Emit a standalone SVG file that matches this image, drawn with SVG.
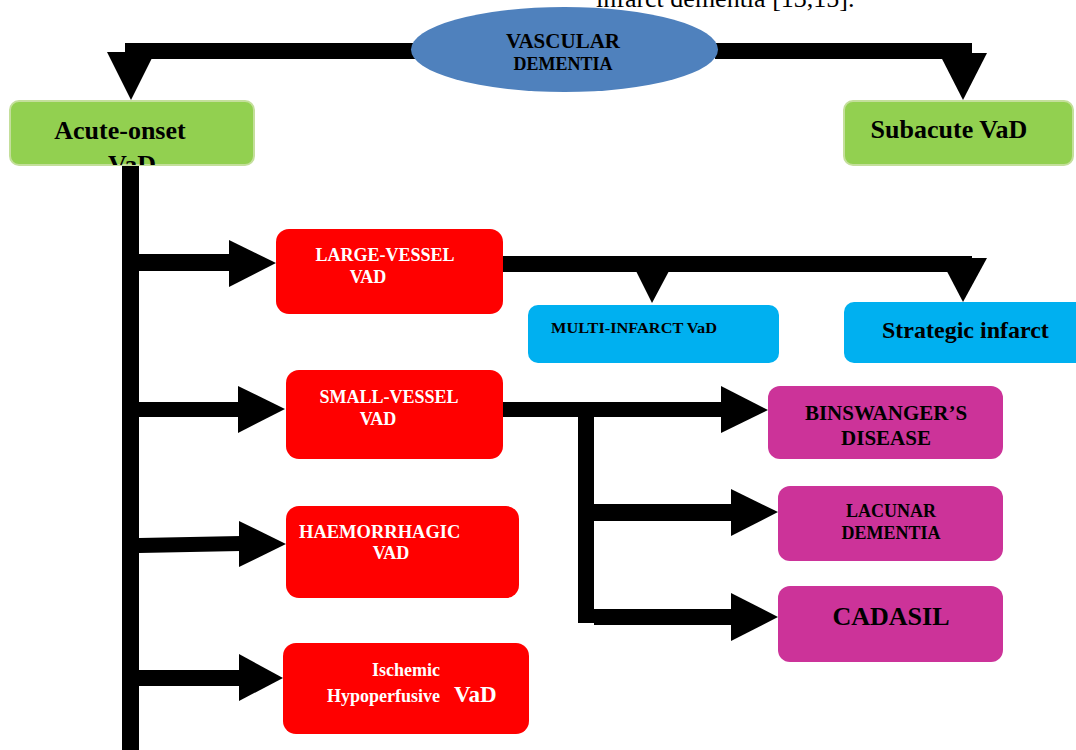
<svg xmlns="http://www.w3.org/2000/svg" width="1076" height="750" viewBox="0 0 1076 750">
<defs>
<style>
.bar{fill:#000}
.t{font-family:"Liberation Serif","Times New Roman",serif;font-weight:bold}
.w{fill:#fff}
.k{fill:#000}
.red{fill:#ff0000}
.grn{fill:#92d050;stroke:#c4df9b;stroke-width:2}
.blu{fill:#00b0f0}
.mag{fill:#cc3399}
</style>
<clipPath id="acuteClip"><rect x="10" y="101" width="244" height="64" rx="9"/></clipPath>
</defs>
<rect width="1076" height="750" fill="#fff"/>
<text x="596" y="7" font-family="Liberation Serif, Times New Roman, serif" font-size="26" fill="#000">infarct dementia [13,15].</text>
<g id="connectors" class="bar">
<rect x="125" y="43" width="290" height="16"/>
<polygon points="107,52 155,52 131,100"/>
<rect x="715" y="43" width="257" height="16"/>
<polygon points="939,53 987,53 963,100"/>
<rect x="122" y="165" width="17" height="585"/>
<rect x="139" y="254" width="92" height="17"/>
<polygon points="229,240 276,263 229,287"/>
<rect x="500" y="256" width="472" height="16"/>
<polygon points="636,271 669,271 652,303"/>
<polygon points="940,258 987,258 963,302"/>
<rect x="139" y="402" width="101" height="15"/>
<polygon points="238,386 285,409 238,433"/>
<rect x="500" y="402" width="223" height="15"/>
<polygon points="721,386 768,410 721,433"/>
<rect x="578" y="402" width="16" height="221"/>
<rect x="594" y="504" width="139" height="17"/>
<polygon points="731,489 778,512 731,536"/>
<rect x="594" y="609" width="139" height="16"/>
<polygon points="731,593 778,617 731,641"/>
<polygon points="139,538 241,536 241,551 139,553"/>
<polygon points="239,521 286,544 239,567"/>
<rect x="139" y="670" width="102" height="16"/>
<polygon points="239,654 283,678 239,701"/>
</g>
<g id="vascular-dementia">
<ellipse cx="564.5" cy="49.5" rx="153.5" ry="42.5" fill="#4f81bd"/>
<text class="t k" x="563" y="48" font-size="21" text-anchor="middle">VASCULAR</text>
<text class="t k" x="563" y="70" font-size="18" text-anchor="middle">DEMENTIA</text>
</g>
<g id="acute-onset">
<rect class="grn" x="10" y="101" width="244" height="64" rx="9"/>
<text class="t k" x="120" y="139" font-size="26" text-anchor="middle">Acute-onset</text>
<text class="t k" x="132" y="173" font-size="26" text-anchor="middle" clip-path="url(#acuteClip)">VaD</text>
</g>
<g id="subacute">
<rect class="grn" x="844" y="101" width="229" height="64" rx="9"/>
<text class="t k" x="949" y="138" font-size="26" text-anchor="middle">Subacute VaD</text>
</g>
<g id="large-vessel">
<rect class="red" x="276" y="229" width="227" height="85" rx="13"/>
<text class="t w" x="385" y="261" font-size="18" text-anchor="middle">LARGE-VESSEL</text>
<text class="t w" x="368" y="283" font-size="18" text-anchor="middle">VAD</text>
</g>
<g id="multi-infarct">
<rect class="blu" x="528" y="305" width="251" height="58" rx="10"/>
<text class="t k" x="551" y="333" font-size="15" textLength="166" lengthAdjust="spacingAndGlyphs">MULTI-INFARCT VaD</text>
</g>
<g id="strategic-infarct">
<rect class="blu" x="844" y="302" width="250" height="61" rx="10"/>
<text class="t k" x="882" y="338" font-size="24">Strategic infarct</text>
</g>
<g id="small-vessel">
<rect class="red" x="286" y="370" width="217" height="89" rx="13"/>
<text class="t w" x="389" y="403" font-size="18" text-anchor="middle">SMALL-VESSEL</text>
<text class="t w" x="378" y="425" font-size="18" text-anchor="middle">VAD</text>
</g>
<g id="binswanger">
<rect class="mag" x="768" y="386" width="235" height="73" rx="12"/>
<text class="t k" x="886" y="420" font-size="21" text-anchor="middle">BINSWANGER’S</text>
<text class="t k" x="886" y="445" font-size="21" text-anchor="middle">DISEASE</text>
</g>
<g id="lacunar">
<rect class="mag" x="778" y="486" width="225" height="75" rx="12"/>
<text class="t k" x="891" y="517" font-size="18" text-anchor="middle">LACUNAR</text>
<text class="t k" x="891" y="539" font-size="18" text-anchor="middle">DEMENTIA</text>
</g>
<g id="cadasil">
<rect class="mag" x="778" y="586" width="225" height="76" rx="12"/>
<text class="t k" x="891" y="625" font-size="26" text-anchor="middle">CADASIL</text>
</g>
<g id="haemorrhagic">
<rect class="red" x="286" y="506" width="233" height="92" rx="13"/>
<text class="t w" x="299" y="538" font-size="18.5">HAEMORRHAGIC</text>
<text class="t w" x="391" y="559" font-size="18" text-anchor="middle">VAD</text>
</g>
<g id="ischemic">
<rect class="red" x="283" y="643" width="246" height="91" rx="13"/>
<text class="t w" x="406" y="676" font-size="18" text-anchor="middle">Ischemic</text>
<text class="t w" x="327" y="702" font-size="18">Hypoperfusive</text>
<text class="t w" x="454" y="702" font-size="23">VaD</text>
</g>
</svg>
